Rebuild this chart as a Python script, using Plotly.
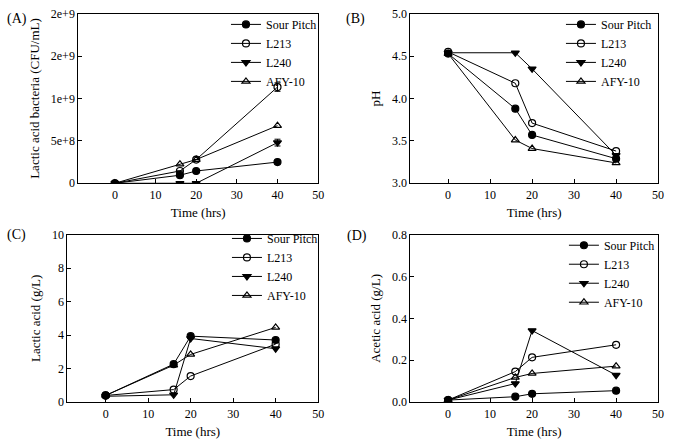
import plotly.graph_objects as go

time = [0, 16, 20, 40]
series = ["Sour Pitch", "L213", "L240", "AFY-10"]

# Panel A: lactic acid bacteria (CFU/mL)
lab_sour = [0.0, 0.95e8, 1.45e8, 2.5e8]
lab_l213 = [0.0, 1.45e8, 2.8e8, 1.135e9]
lab_l240 = [0.0, 0.0, 0.0, 4.8e8]
lab_afy = [0.0, 2.25e8, 2.8e8, 6.8e8]
lab_err_l213 = [0, 0, 0, 5e7]
lab_err_l240 = [0, 0, 0, 4e7]

# Panel B: pH
ph_sour = [4.53, 3.88, 3.57, 3.29]
ph_l213 = [4.55, 4.18, 3.71, 3.38]
ph_l240 = [4.54, 4.54, 4.35, 3.33]
ph_afy = [4.53, 3.51, 3.41, 3.24]

# Panel C: lactic acid (g/L)
la_sour = [0.40, 2.27, 3.94, 3.71]
la_l213 = [0.40, 0.75, 1.56, 3.46]
la_l240 = [0.35, 0.44, 3.80, 3.19]
la_afy = [0.40, 2.21, 2.85, 4.46]

# Panel D: acetic acid (g/L)
aa_sour = [0.010, 0.026, 0.040, 0.055]
aa_l213 = [0.010, 0.146, 0.214, 0.274]
aa_l240 = [0.010, 0.089, 0.342, 0.129]
aa_afy = [0.010, 0.118, 0.137, 0.172]

a_ticks = [0, 5e8, 1e9, 1.5e9, 2e9]
a_ticktext = ["0", "5e+8", "1e+9", "2e+9", "2e+9"]

symbols = ["circle", "circle-open", "triangle-down", "triangle-up-open"]
FONT = "Liberation Serif, Times New Roman, serif"

W, H = 674, 445
def dx(a, b):
    return [a / W, b / W]
def dy(top, bot):
    return [1 - bot / H, 1 - top / H]

panels = [
    dict(data=[lab_sour, lab_l213, lab_l240, lab_afy], err=[None, lab_err_l213, lab_err_l240, None],
         xd=dx(79, 321), yd=dy(7, 182), legend="legend", label="(A)",
         ytitle="Lactic acid bacteria (CFU/mL)", yrange=[0, 2e9]),
    dict(data=[ph_sour, ph_l213, ph_l240, ph_afy], err=[None] * 4,
         xd=dx(414, 664), yd=dy(7, 182), legend="legend2", label="(B)",
         ytitle="pH", yrange=[3.0, 5.0]),
    dict(data=[la_sour, la_l213, la_l240, la_afy], err=[None] * 4,
         xd=dx(68, 321), yd=dy(235, 408), legend="legend3", label="(C)",
         ytitle="Lactic acid (g/L)", yrange=[0, 10]),
    dict(data=[aa_sour, aa_l213, aa_l240, aa_afy], err=[None] * 4,
         xd=dx(414, 664), yd=dy(235, 408), legend="legend4", label="(D)",
         ytitle="Acetic acid (g/L)", yrange=[0, 0.8]),
]

fig = go.Figure()
for i, p in enumerate(panels):
    n = "" if i == 0 else str(i + 1)
    for k, (name, sym) in enumerate(zip(series, symbols)):
        err = p["err"][k]
        fig.add_trace(go.Scatter(
            x=time, y=p["data"][k], name=name, mode="lines+markers",
            line=dict(color="black", width=1),
            marker=dict(symbol=sym, size=7, color="black", line=dict(color="black", width=1.2)),
            error_y=dict(type="data", array=err, visible=True, color="black", thickness=1, width=3) if err else None,
            xaxis="x" + n, yaxis="y" + n, legend=p["legend"],
        ))
    axcommon = dict(showline=True, linecolor="black", linewidth=1, mirror=True,
                    ticks="inside", ticklen=4, tickcolor="black", showgrid=False, zeroline=False,
                    tickfont=dict(family=FONT, size=12, color="black"))
    fig.layout["xaxis" + n] = dict(domain=p["xd"], anchor="y" + n, range=[-9, 50], dtick=10, tick0=0,
                                   title=dict(text="Time (hrs)", font=dict(family=FONT, size=13, color="black"), standoff=7),
                                   **axcommon)
    ykw = dict(domain=p["yd"], anchor="x" + n, range=p["yrange"],
               title=dict(text=p["ytitle"], font=dict(family=FONT, size=13, color="black"), standoff=8),
               **axcommon)
    if i == 0:
        ykw.update(tickvals=a_ticks, ticktext=a_ticktext)
    elif i == 1:
        ykw.update(dtick=0.5, tickformat=".1f")
    elif i == 2:
        ykw.update(dtick=2)
    else:
        ykw.update(dtick=0.2, tickformat=".1f")
    fig.layout["yaxis" + n] = ykw

leg_pos = {"legend": (228, 3), "legend2": (566, 3), "legend3": (229, 224), "legend4": (569, 231)}
for key, (lx, ly) in leg_pos.items():
    fig.layout[key] = dict(x=lx / W, y=1 - ly / H, xanchor="left", yanchor="top",
                           bgcolor="rgba(0,0,0,0)", font=dict(family=FONT, size=12, color="black"),
                           tracegroupgap=0)

labels = [("(A)", 5, 12), ("(B)", 347, 12), ("(C)", 5, 235), ("(D)", 348, 236)]
for t, lx, ly in labels:
    fig.add_annotation(text=t, x=lx / W, y=1 - ly / H, xref="paper", yref="paper",
                       xanchor="left", yanchor="middle", showarrow=False,
                       font=dict(family=FONT, size=14, color="black"))

fig.update_layout(width=W, height=H, margin=dict(l=0, r=0, t=0, b=0),
                  paper_bgcolor="white", plot_bgcolor="white", showlegend=True)

fig.write_html("out.html")
